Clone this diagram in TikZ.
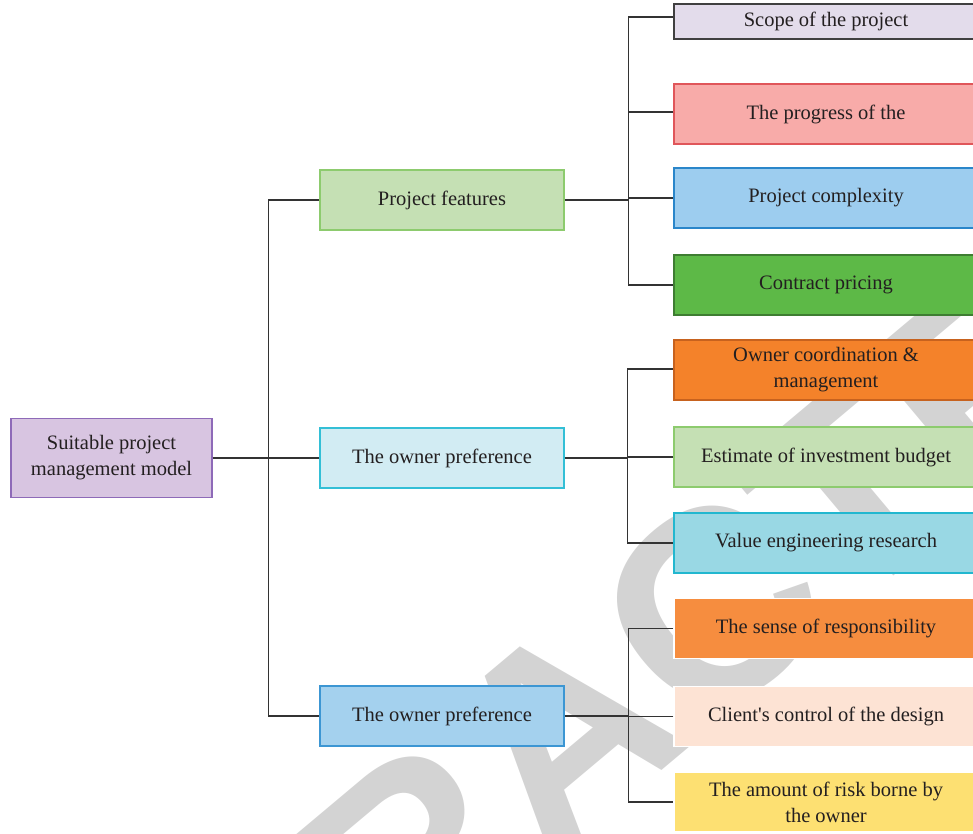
\documentclass[tikz,border=0pt]{standalone}
\usepackage{fontspec}
\setmainfont{Liberation Serif}
\newfontfamily\wmfont{Liberation Sans}
\definecolor{txt}{HTML}{231F20}
\definecolor{wm}{HTML}{D3D3D3}
\definecolor{lnc}{HTML}{333333}
\definecolor{rootF}{HTML}{D8C5E1}\definecolor{rootD}{HTML}{8E6AB8}
\definecolor{greenF}{HTML}{C5E0B4}\definecolor{greenD}{HTML}{8DCB6E}
\definecolor{cyanF}{HTML}{D2ECF3}\definecolor{cyanD}{HTML}{33BFD6}
\definecolor{blueF}{HTML}{A4D1EE}\definecolor{blueD}{HTML}{3C96D3}
\definecolor{scopeF}{HTML}{E3DCEB}\definecolor{scopeD}{HTML}{404040}
\definecolor{progF}{HTML}{F8ABA9}\definecolor{progD}{HTML}{E0565A}
\definecolor{compF}{HTML}{9DCDEF}\definecolor{compD}{HTML}{2A86CA}
\definecolor{contF}{HTML}{5DB947}\definecolor{contD}{HTML}{3E7D32}
\definecolor{ownF}{HTML}{F4822A}\definecolor{ownD}{HTML}{C7621E}
\definecolor{valF}{HTML}{99D8E4}\definecolor{valD}{HTML}{22B7CF}
\definecolor{senseF}{HTML}{F68D3F}
\definecolor{clientF}{HTML}{FDE3D4}
\definecolor{amountF}{HTML}{FDE072}
\tikzset{
  box/.style={draw, line width=1.2pt, minimum height=60pt, inner sep=0pt, align=center,
    text=txt, font=\fontsize{20.5}{26}\selectfont},
  midbox/.style={box, minimum width=244pt},
  rbox/.style={box, minimum width=304pt},
  conn/.style={draw=lnc, line width=1.3pt},
}
\begin{document}
\begin{tikzpicture}[x=1pt,y=-1pt]
\useasboundingbox (0,0) rectangle (973,833);
\clip (0,0) rectangle (973,833);
% watermark
\node[text=wm, rotate=40, inner sep=0pt, font=\wmfont\bfseries\fontsize{270}{270}\selectfont] (wmark) at (562,733) {RETRACTED};
% root and middle nodes
\node[box, minimum width=201pt, minimum height=79pt, fill=rootF, draw=rootD] (root) at (111.5,458) {Suitable project\\management model};
\node[midbox, fill=greenF, draw=greenD] (mid1) at (442,200) {Project features};
\node[midbox, fill=cyanF, draw=cyanD] (mid2) at (442,458) {The owner preference};
\node[midbox, fill=blueF, draw=blueD] (mid3) at (442,716) {The owner preference};
% right nodes
\node[rbox, minimum height=35pt, fill=scopeF, draw=scopeD] (scope) at (826,21.5) {Scope of the project};
\node[rbox, fill=progF, draw=progD] (progress) at (826,114) {The progress of the};
\node[rbox, fill=compF, draw=compD] (complex) at (826,198) {Project complexity};
\node[rbox, fill=contF, draw=contD] (contract) at (826,285) {Contract pricing};
\node[rbox, fill=ownF, draw=ownD] (owner) at (826,370) {Owner coordination \&\\management};
\node[rbox, fill=greenF, draw=greenD] (estimate) at (826,457) {Estimate of investment budget};
\node[rbox, fill=valF, draw=valD] (value) at (826,543) {Value engineering research};
\node[rbox, fill=senseF, draw=white] (sense) at (826,628.5) {The sense of responsibility};
\node[rbox, fill=clientF, draw=white] (client) at (826,716.5) {Client\textquotesingle s control of the design};
\node[rbox, fill=amountF, draw=white] (amount) at (826,802) {The amount of risk borne by\\the owner};
% connectors level 1
\draw[conn] (root.east) -- (mid2.west);
\draw[conn] (mid1.west) -- ++(-51,0) coordinate (trunk) |- (mid3.west);
% branch 1
\draw[conn] (mid1.east) -- ++(64,0) coordinate (b1);
\draw[conn] ([yshift=4.5pt]scope.west) -- ([yshift=4.5pt]scope.west -| b1) |- (contract.west);
\draw[conn] ([yshift=2pt]progress.west) -- ([yshift=2pt]progress.west -| b1);
\draw[conn] (complex.west) -- (complex.west -| b1);
% branch 2
\draw[conn] (mid2.east) -- ++(63,0) coordinate (b2);
\draw[conn] ([yshift=1pt]owner.west) -- ([yshift=1pt]owner.west -| b2) |- (value.west);
\draw[conn] (estimate.west) -- (estimate.west -| b2);
% branch 3
\draw[conn] (mid3.east) -- ++(64,0) coordinate (b3);
\draw[conn] (sense.west) -- (sense.west -| b3) |- (amount.west);
\draw[conn] (client.west) -- (client.west -| b3);
\end{tikzpicture}
\end{document}
